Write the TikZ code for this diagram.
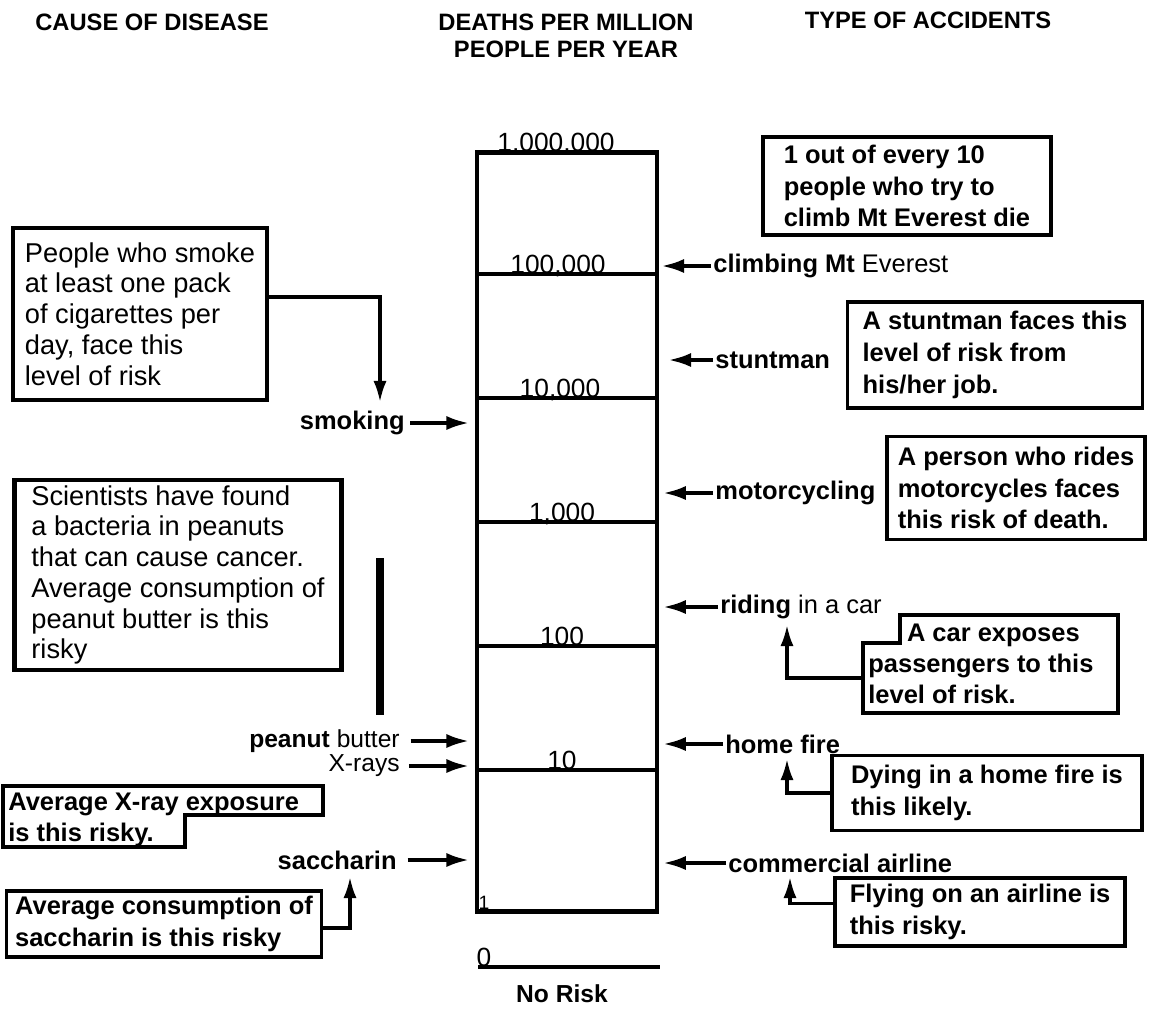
\documentclass[tikz,border=0pt]{standalone}
\usepackage{fontspec}
\setmainfont{Liberation Sans}
\usepackage{xcolor}
\usetikzlibrary{arrows.meta}
\definecolor{inkblack}{RGB}{0, 0, 0}

\begin{document}
\begin{tikzpicture}[
        x=0.02cm, y=-0.02cm,
        header/.style={font=\fontsize{13.5}{15}\selectfont\bfseries, align=center, text=inkblack},
        scalebar/.style={rectangle, draw=inkblack, line width=2.8pt, inner sep=0pt},
        scaleline/.style={draw=inkblack, line width=2.8pt},
        level/.style={font=\fontsize{15}{18}\selectfont, anchor=base, inner sep=0pt, text=inkblack},
        cause/.style={font=\fontsize{14}{17}\selectfont\bfseries, anchor=east, inner sep=0pt, text=inkblack},
        accident/.style={font=\fontsize{14.5}{18}\selectfont\bfseries, anchor=west, inner sep=0pt, text=inkblack},
        bigbox/.style={rectangle, draw=inkblack, line width=2.6pt, align=left, inner sep=2pt, font=\fontsize{15.5}{17.5}\selectfont, text=inkblack},
        notebox/.style={rectangle, draw=inkblack, line width=2pt, align=left, inner sep=2pt, font=\fontsize{14.5}{18}\selectfont\bfseries, text=inkblack},
        notetext/.style={anchor=north west, align=left, inner sep=0pt, font=\fontsize{14.5}{17.5}\selectfont\bfseries, text=inkblack},
        outline/.style={draw=inkblack, line width=2pt},
        flow/.style={-{Latex[length=13pt,width=8pt]}, line width=2.2pt, color=inkblack},
        pointer/.style={-{Latex[length=12pt,width=7.5pt]}, line width=1.8pt, color=inkblack}
    ]
    \useasboundingbox (0,0) rectangle (1154,1012);

    % Headings
    \node[header] (hdisease) at (152,22) {CAUSE OF DISEASE};
    \node[header] (hdeaths) at (566,36) {DEATHS PER MILLION\\PEOPLE PER YEAR};
    \node[header] (haccidents) at (928,20) {TYPE OF ACCIDENTS};

    % Scale column
    \node[scalebar, minimum width=3.6cm, minimum height=15.2cm] (scale) at (567,532) {};
    \node[level] (lvlmillion) at (556,151) {1,000,000};
    \node[level] (lvlhundredk) at (558,273) {100,000};
    \node[level] (lvltenk) at (560,397) {10,000};
    \node[level] (lvlthousand) at (562,521) {1,000};
    \node[level] (lvlhundred) at (562,645) {100};
    \node[level] (lvlten) at (562,769) {10};
    \node[level, font=\fontsize{11}{13}\selectfont] (lvlone) at (484,909) {1};
    \node[level] (lvlzero) at (484,966) {0};
    \node[font=\fontsize{14}{16}\selectfont\bfseries] (norisk) at (562,994) {No Risk};
    \draw[scaleline] (477,274) -- (657,274);
    \draw[scaleline] (477,398) -- (657,398);
    \draw[scaleline] (477,522) -- (657,522);
    \draw[scaleline] (477,646) -- (657,646);
    \draw[scaleline] (477,770) -- (657,770);
    \draw[scaleline] (478,967) -- (660,967);

    % Causes of disease
    \node[cause, font=\fontsize{14.5}{18}\selectfont\bfseries] (smoking) at (405,423) {smoking};
    \node[cause] (peanut) at (400,741) {peanut \textmd{butter}};
    \node[cause, font=\fontsize{14}{17}\selectfont] (xrays) at (400,766) {X-rays};
    \node[cause, font=\fontsize{14.5}{18}\selectfont\bfseries] (saccharin) at (397,860) {saccharin};

    % Types of accidents
    \node[accident] (climbing) at (713,266) {climbing Mt \textmd{Everest}};
    \node[accident] (stuntman) at (715,360) {stuntman};
    \node[accident] (motorcycling) at (715,493) {motorcycling};
    \node[accident] (riding) at (720,607) {riding \textmd{in a car}};
    \node[accident] (homefire) at (725,744) {home fire};
    \node[accident] (airline) at (728,863) {commercial airline};

    % Notes on the left
    \node[bigbox, minimum width=5.08cm, minimum height=3.44cm] (smokenote) at (140,314) {People who smoke\\at least one pack\\of cigarettes per\\day, face this\\level of risk};
    \node[bigbox, minimum width=6.54cm, minimum height=3.8cm] (peanutnote) at (178,575) {Scientists have found\\a bacteria in peanuts\\that can cause cancer.\\Average consumption of\\peanut butter is this\\risky};
    \node[notetext] (xraynote) at (8,793) {Average X-ray exposure\\is this risky.};
    \draw[outline] (3,786) -- (323,786) -- (323,815) -- (185,815) -- (185,847) -- (3,847) -- cycle;
    \node[notebox, minimum width=6.3cm, minimum height=1.32cm] (saccharinnote) at (164,924) {Average consumption of\\saccharin is this risky};
    \draw[line width=4.5pt, color=inkblack] (380,558) -- (380,715);

    % Notes on the right
    \node[notebox, minimum width=5.76cm, minimum height=1.96cm] (everestnote) at (907,186) {1 out of every 10\\people who try to\\climb Mt Everest die};
    \node[notebox, minimum width=5.9cm, minimum height=2.12cm] (stuntnote) at (995,355) {A stuntman faces this\\level of risk from\\his/her job.};
    \node[notebox, minimum width=5.16cm, minimum height=2.06cm] (motonote) at (1016,488) {A person who rides\\motorcycles faces\\this risk of death.};
    \node[notetext] (carnote) at (868,624) {\hspace*{22pt}A car exposes\\passengers to this\\level of risk.};
    \draw[outline] (900,615) -- (1118,615) -- (1118,713) -- (863,713) -- (863,643) -- (900,643) -- cycle;
    \node[notebox, minimum width=6.2cm, minimum height=1.5cm] (homenote) at (987,793) {Dying in a home fire is\\this likely.};
    \node[notebox, minimum width=5.8cm, minimum height=1.36cm] (airlinenote) at (980,912) {Flying on an airline is\\this risky.};

    % Pointers from notes
    \coordinate (smoketip) at (380,402);
    \coordinate (saccharintip) at (350,877);
    \coordinate (carfoot) at (863,678);
    \coordinate (cartip) at (787,625);
    \coordinate (hometip) at (787,759);
    \coordinate (airlinetip) at (790,877);
    \draw[pointer] ([yshift=9.7pt]smokenote.east) -| (smoketip);
    \draw[pointer] ([yshift=-2.3pt]saccharinnote.east) -| (saccharintip);
    \draw[pointer] (carfoot) -| (cartip);
    \draw[pointer] (homenote.west) -| (hometip);
    \draw[pointer] ([yshift=5pt]airlinenote.west) -| (airlinetip);

    % Arrows onto the scale
    \draw[flow, shorten <=3pt, shorten >=3pt] (smoking.east) -- (smoking.east -| scale.west);
    \draw[flow, shorten <=6pt, shorten >=3pt] (peanut.east) -- (peanut.east -| scale.west);
    \draw[flow, shorten <=5pt, shorten >=3pt] (xrays.east) -- (xrays.east -| scale.west);
    \draw[flow, shorten <=6pt, shorten >=3pt] (saccharin.east) -- (saccharin.east -| scale.west);
    \draw[flow, shorten <=1pt, shorten >=1pt] (climbing.west) -- (climbing.west -| scale.east);
    \draw[flow, shorten <=1pt, shorten >=5pt] (stuntman.west) -- (stuntman.west -| scale.east);
    \draw[flow, shorten <=1pt, shorten >=2pt] (motorcycling.west) -- (motorcycling.west -| scale.east);
    \draw[flow, shorten <=1pt, shorten >=2pt] (riding.west) -- (riding.west -| scale.east);
    \draw[flow, shorten <=1pt, shorten >=2pt] (homefire.west) -- (homefire.west -| scale.east);
    \draw[flow, shorten <=1pt, shorten >=2pt] (airline.west) -- (airline.west -| scale.east);

    \end{tikzpicture}
\end{document}
